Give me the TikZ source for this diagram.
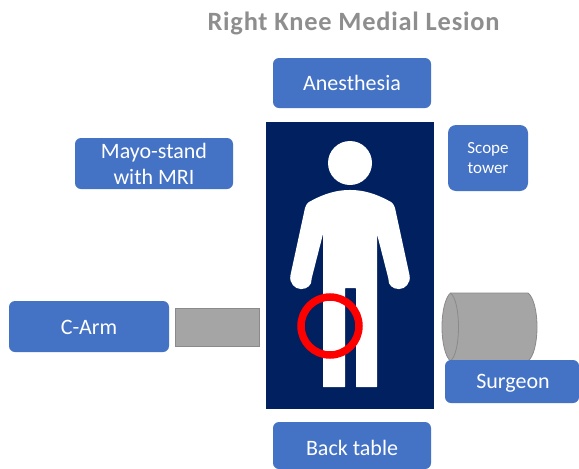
\documentclass[tikz,border=0pt]{standalone}
\usepackage{fontspec}
\setmainfont{Carlito}
\definecolor{boxblue}{HTML}{4472C4}
\definecolor{navy}{HTML}{002060}
\definecolor{greyfill}{HTML}{A5A5A5}
\definecolor{greyline}{HTML}{8A8A8A}
\definecolor{titlegrey}{HTML}{8E8E8E}
\tikzset{
  bluebox/.style={draw=none,fill=boxblue,rounded corners=6pt,text=white,align=center,inner sep=0pt,anchor=center,font=\fontsize{22}{26}\selectfont},
  greyshape/.style={fill=greyfill,draw=greyline,line width=0.8pt},
}
\begin{document}
\begin{tikzpicture}[x=1pt,y=-1pt]
\useasboundingbox[fill=white] (0,0) rectangle (579,469);
\node[text=titlegrey,font=\fontsize{26.4}{30}\bfseries\selectfont,inner sep=0pt] (title) at (353.5,23.5) {\addfontfeature{LetterSpace=3}Right Knee Medial Lesion};
% table
\fill[navy] (266,122) rectangle (434,409);
% person
\fill[white] (350,163) circle (22);
\fill[white,rounded corners=0.5pt]
  (350,190) .. controls (332,190) and (318,197) .. (309,202)
  .. controls (307,203.5) and (306,205) .. (305,208)
  -- (290.5,275) .. controls (289,283) and (295,289) .. (301,289)
  .. controls (307,289) and (312,285) .. (311.5,279)
  -- (323,234) -- (323,387) -- (345,387) -- (345,288) -- (356,288) -- (356,387) -- (377,387) -- (377,234)
  -- (388.5,279) .. controls (388,285) and (393,289) .. (399,289)
  .. controls (405,289) and (411,283) .. (409.5,275)
  -- (395,208) .. controls (394,205) and (393,203.5) .. (391,202)
  .. controls (382,197) and (368,190) .. (350,190) -- cycle;
\draw[red,line width=7.5pt] (330,326) circle (29);
% cylinder
\draw[greyshape] (450.5,293) -- (528,293) .. controls (533.5,297) and (537,311) .. (537,327)
  .. controls (537,343) and (533.5,357) .. (528,361) -- (450.5,361)
  .. controls (445.5,357) and (442,343) .. (442,327) .. controls (442,311) and (445.5,297) .. (450.5,293) -- cycle;
\draw[greyshape] (450.5,293) .. controls (455.5,297) and (458.5,311) .. (458.5,327) .. controls (458.5,343) and (455.5,357) .. (450.5,361);
\draw[greyshape,fill=greyfill] (175.5,308.5) rectangle (259.5,346.5);
% boxes
\node[bluebox,minimum width=158pt,minimum height=50pt] (anes) at (352,83) {Anesthesia};
\node[bluebox,minimum width=80pt,minimum height=66pt,rounded corners=8pt,font=\fontsize{17}{20}\selectfont] (scope) at (488,158) {Scope\\tower};
\node[bluebox,minimum width=158pt,minimum height=51pt] (mayo) at (154,163.5) {Mayo-stand\\with MRI};
\node[bluebox,minimum width=160pt,minimum height=51pt,text height=16pt,text depth=0pt] (carm) at (89,326.5) {C-Arm};
\node[bluebox,minimum width=134pt,minimum height=43pt,text height=14pt,text depth=0pt] (surg) at (512,381.5) {\hspace{2pt}Surgeon};
\node[bluebox,minimum width=158pt,minimum height=47pt,text height=19.2pt,text depth=0pt] (back) at (352,445.5) {Back table};
\end{tikzpicture}
\end{document}
